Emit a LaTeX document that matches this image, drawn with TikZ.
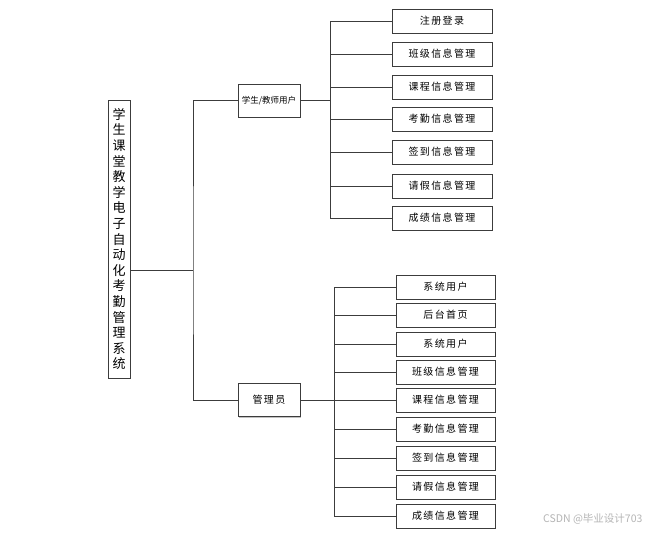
\documentclass[tikz,border=0pt]{standalone}
\usepackage{fontspec}
\newfontfamily\cjk{Noto Sans CJK SC}
\newfontfamily\cjkwide[LetterSpace=14]{Noto Sans CJK SC}
\usetikzlibrary{shadows}
\definecolor{linegray}{HTML}{3C3C3C}
\definecolor{markgray}{HTML}{B4B4B4}
\tikzset{
  funcbox/.style={draw=linegray,fill=white,inner sep=0pt,font=\cjkwide\fontsize{10}{12}\selectfont,
    drop shadow={shadow xshift=1pt,shadow yshift=-1pt,fill=gray!70,opacity=0.7}},
  upbox/.style={funcbox,minimum width=100pt,minimum height=24pt},
  lowbox/.style={funcbox,minimum width=99pt,minimum height=24pt},
  rolebox/.style={funcbox,minimum width=62pt,minimum height=33pt},
  link/.style={draw=linegray,line width=0.8pt}
}
\begin{document}
\begin{tikzpicture}[x=1pt,y=-1pt]
\useasboundingbox (0,0) rectangle (655,533);

% System root (vertical title)
\node[funcbox,minimum width=22pt,minimum height=278pt,align=center,
  font=\cjk\fontsize{13}{15.6}\selectfont] (root) at (119,239)
  {学\\生\\课\\堂\\教\\学\\电\\子\\自\\动\\化\\考\\勤\\管\\理\\系\\统};

% Roles
\node[rolebox,font=\cjk\fontsize{8.5}{10}\selectfont] (stu) at (269,100.5) {学生/教师用户};
\node[rolebox] (mgr) at (269,400) {管理员};

% Student / teacher functions
\node[upbox] (u1) at (442,21) {注册登录};
\node[upbox] (u2) at (442,54) {班级信息管理};
\node[upbox] (u3) at (442,87) {课程信息管理};
\node[upbox] (u4) at (442,119) {考勤信息管理};
\node[upbox] (u5) at (442,152) {签到信息管理};
\node[upbox] (u6) at (442,186) {请假信息管理};
\node[upbox] (u7) at (442,218) {成绩信息管理};

% Administrator functions
\node[lowbox] (l1) at (445.5,287) {系统用户};
\node[lowbox] (l2) at (445.5,315) {后台首页};
\node[lowbox] (l3) at (445.5,344) {系统用户};
\node[lowbox] (l4) at (445.5,372) {班级信息管理};
\node[lowbox] (l5) at (445.5,400) {课程信息管理};
\node[lowbox] (l6) at (445.5,429) {考勤信息管理};
\node[lowbox] (l7) at (445.5,458) {签到信息管理};
\node[lowbox] (l8) at (445.5,487) {请假信息管理};
\node[lowbox] (l9) at (445.5,516) {成绩信息管理};

% Bus points
\coordinate (busR) at (193,270);
\coordinate (busU) at (330,100.5);
\coordinate (busL) at (334,400);

% Root to roles
\draw[link] (root.east |- busR) -- (busR);
\draw[link] (stu.west) -| (busR) |- (mgr.west);

% Roles to functions
\draw[link] (stu.east) -- (busU);
\foreach \i in {1,...,7}
  \draw[link] (busU) |- (u\i.west);
\draw[link] (mgr.east) -- (busL);
\foreach \i in {1,...,9}
  \draw[link] (busL) |- (l\i.west);

% Watermark
\node[anchor=east,text=markgray,font=\cjk\fontsize{10.5}{12}\selectfont] (mark) at (646,519) {CSDN @毕业设计703};
\end{tikzpicture}
\end{document}
